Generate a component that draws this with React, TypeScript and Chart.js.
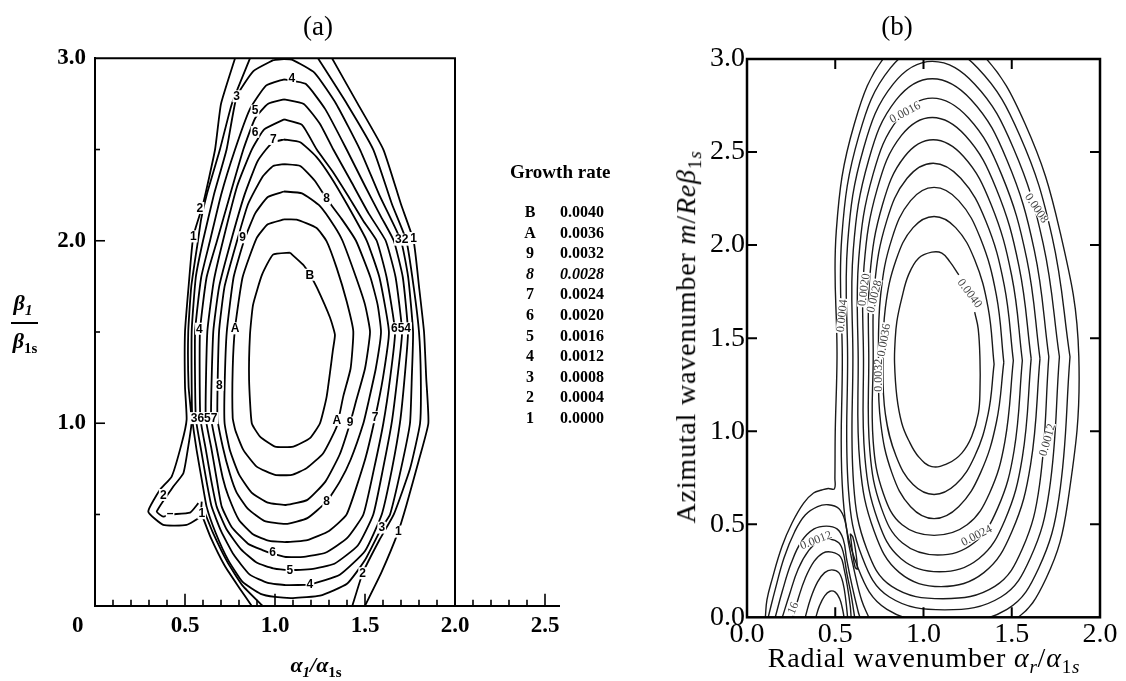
import React, { useEffect, useRef } from "react";
import { Chart, registerables } from "chart.js";
Chart.register(...registerables);

type Pt = [number, number];

// ================= Panel (a) data =================
const aXTickValues = [0, 0.5, 1.0, 1.5, 2.0, 2.5];
const aXTickLabels = ["0      ", "0.5", "1.0", "1.5", "2.0", "2.5"];
const aYTickValues = [1, 2, 3];
const aYTickLabels = ["1.0", "2.0", "3.0"];
const aBottomMarks = [0.1, 0.2, 0.3, 0.4, 0.5, 0.6, 0.7, 0.8, 0.9, 1.0, 1.1, 1.2, 1.3, 1.4, 1.5, 1.6, 1.7, 1.8, 1.9, 2.0, 2.1, 2.2, 2.3, 2.4, 2.5];
const aLeftMarks = [0.5, 1.0, 1.5, 2.0, 2.5];

const aC1Left: Pt[] = [[0.778,3.0],[0.70,2.75],[0.667,2.5],[0.60,2.2],[0.546,2.024],[0.52,1.75],[0.50,1.5],[0.50,1.2],[0.509,1.02],[0.482,0.891],[0.426,0.708],[0.361,0.635],[0.296,0.516],[0.379,0.443],[0.509,0.443],[0.583,0.488],[0.593,0.57]];
const aC1Lower: Pt[] = [[0.593,0.50],[0.64,0.38],[0.72,0.22],[0.80,0.10],[0.87,0.0]];
const aC1Right: Pt[] = [[1.50,0.0],[1.59,0.18],[1.685,0.406],[1.73,0.55],[1.80,0.8],[1.852,1.0],[1.84,1.25],[1.828,1.5],[1.80,1.75],[1.77,2.0],[1.70,2.2],[1.602,2.5],[1.46,2.75],[1.317,3.0]];
const aC2Left: Pt[] = [[0.861,3.0],[0.76,2.75],[0.694,2.5],[0.62,2.25],[0.59,2.12],[0.572,2.0],[0.535,1.75],[0.518,1.5],[0.52,1.2],[0.537,1.01],[0.518,0.872],[0.491,0.726],[0.435,0.653],[0.343,0.516],[0.379,0.488],[0.417,0.50],[0.528,0.51],[0.574,0.562]];
const aC2Lower: Pt[] = [[0.606,0.52],[0.655,0.40],[0.735,0.24],[0.82,0.11],[0.93,0.0]];
const aC2Right: Pt[] = [[1.43,0.0],[1.487,0.178],[1.58,0.36],[1.66,0.5],[1.75,0.75],[1.806,1.0],[1.81,1.25],[1.80,1.5],[1.77,1.75],[1.73,2.0],[1.65,2.2],[1.546,2.5],[1.40,2.75],[1.239,3.0]];
const aC3: Pt[] = [[0.99,2.99],[1.05,2.995],[1.10,2.99],[1.22,2.92],[1.34,2.75],[1.472,2.5],[1.58,2.25],[1.70,2.0],[1.74,1.8],[1.767,1.5],[1.76,1.25],[1.75,1.0],[1.70,0.75],[1.639,0.5],[1.593,0.428],[1.50,0.25],[1.40,0.12],[1.25,0.055],[1.10,0.042],[1.0,0.048],[0.92,0.065],[0.82,0.13],[0.74,0.25],[0.67,0.40],[0.62,0.543],[0.595,0.68],[0.565,0.85],[0.54,1.03],[0.537,1.5],[0.56,1.8],[0.60,2.0],[0.66,2.25],[0.731,2.5],[0.787,2.79],[0.88,2.93],[0.99,2.99]];
const aC4: Pt[] = [[1.05,2.885],[1.17,2.86],[1.28,2.72],[1.398,2.5],[1.50,2.3],[1.59,2.13],[1.66,2.0],[1.71,1.8],[1.739,1.5],[1.72,1.25],[1.694,1.0],[1.65,0.75],[1.593,0.5],[1.50,0.3],[1.36,0.17],[1.194,0.117],[1.06,0.113],[0.96,0.125],[0.86,0.17],[0.77,0.28],[0.70,0.41],[0.648,0.543],[0.62,0.68],[0.59,0.85],[0.56,1.03],[0.556,1.5],[0.59,1.8],[0.639,2.0],[0.70,2.25],[0.778,2.5],[0.86,2.72],[0.95,2.85],[1.05,2.885]];
const aC5: Pt[] = [[1.05,2.775],[1.16,2.75],[1.25,2.64],[1.324,2.5],[1.42,2.33],[1.52,2.15],[1.615,2.0],[1.67,1.8],[1.706,1.5],[1.68,1.25],[1.648,1.0],[1.60,0.75],[1.546,0.5],[1.46,0.33],[1.33,0.23],[1.20,0.2],[1.083,0.196],[0.99,0.205],[0.90,0.235],[0.81,0.31],[0.73,0.42],[0.676,0.543],[0.645,0.69],[0.615,0.86],[0.585,1.03],[0.583,1.5],[0.62,1.8],[0.678,2.0],[0.75,2.25],[0.824,2.5],[0.889,2.67],[0.96,2.75],[1.05,2.775]];
const aC6: Pt[] = [[1.05,2.665],[1.15,2.635],[1.232,2.5],[1.32,2.38],[1.41,2.24],[1.49,2.11],[1.565,2.0],[1.62,1.8],[1.667,1.5],[1.64,1.25],[1.602,1.0],[1.55,0.75],[1.491,0.5],[1.40,0.37],[1.28,0.29],[1.16,0.268],[1.06,0.267],[0.987,0.285],[0.93,0.305],[0.85,0.34],[0.76,0.43],[0.704,0.543],[0.675,0.70],[0.645,0.87],[0.615,1.03],[0.624,1.5],[0.66,1.78],[0.711,2.0],[0.79,2.3],[0.871,2.5],[0.94,2.61],[1.05,2.665]];
const aC7: Pt[] = [[1.05,2.555],[1.14,2.54],[1.23,2.46],[1.31,2.35],[1.40,2.2],[1.51,2.0],[1.58,1.8],[1.633,1.5],[1.60,1.25],[1.556,1.03],[1.50,0.8],[1.398,0.5],[1.30,0.41],[1.18,0.36],[1.06,0.349],[0.97,0.355],[0.88,0.39],[0.80,0.47],[0.741,0.6],[0.71,0.70],[0.675,0.87],[0.645,1.03],[0.657,1.5],[0.69,1.75],[0.756,2.0],[0.83,2.25],[0.90,2.43],[0.95,2.5],[0.99,2.54],[1.05,2.555]];
const aC8: Pt[] = [[1.05,2.42],[1.14,2.41],[1.22,2.33],[1.287,2.23],[1.37,2.12],[1.45,2.0],[1.53,1.8],[1.57,1.65],[1.589,1.5],[1.56,1.3],[1.52,1.12],[1.491,1.0],[1.42,0.8],[1.36,0.68],[1.287,0.571],[1.18,0.48],[1.06,0.448],[0.94,0.465],[0.85,0.53],[0.787,0.62],[0.75,0.72],[0.71,0.87],[0.68,1.03],[0.689,1.5],[0.72,1.75],[0.789,2.0],[0.85,2.2],[0.93,2.35],[0.99,2.41],[1.05,2.42]];
const aC9: Pt[] = [[1.05,2.27],[1.15,2.26],[1.25,2.19],[1.33,2.08],[1.375,2.0],[1.45,1.8],[1.50,1.65],[1.528,1.5],[1.50,1.3],[1.45,1.12],[1.417,1.0],[1.36,0.83],[1.28,0.68],[1.18,0.58],[1.06,0.552],[0.96,0.565],[0.87,0.62],[0.80,0.72],[0.75,0.85],[0.72,1.0],[0.72,1.2],[0.732,1.5],[0.77,1.8],[0.828,2.0],[0.89,2.15],[0.96,2.24],[1.05,2.27]];
const aCA: Pt[] = [[1.05,2.117],[1.12,2.116],[1.231,2.07],[1.287,1.997],[1.343,1.85],[1.398,1.668],[1.435,1.503],[1.42,1.3],[1.379,1.146],[1.343,0.982],[1.268,0.836],[1.176,0.754],[1.093,0.717],[1.0,0.717],[0.898,0.762],[0.824,0.854],[0.78,0.96],[0.765,1.03],[0.765,1.3],[0.778,1.52],[0.82,1.8],[0.898,2.015],[0.96,2.09],[1.05,2.117]];
const aCB: Pt[] = [[1.083,1.935],[0.989,1.924],[0.928,1.814],[0.878,1.649],[0.861,1.485],[0.856,1.238],[0.871,1.0],[0.917,0.927],[1.0,0.872],[1.102,0.872],[1.194,0.918],[1.25,1.0],[1.287,1.146],[1.322,1.403],[1.333,1.485],[1.306,1.578],[1.233,1.743],[1.194,1.814],[1.156,1.869],[1.083,1.935]];

const aContours: Pt[][] = [aC1Left, aC1Lower, aC1Right, aC2Left, aC2Lower, aC2Right, aC3, aC4, aC5, aC6, aC7, aC8, aC9, aCA, aCB];

const aLabelText = ["3","4","5","6","7","8","9","B","A","2","1","32","1","654","4","8","3657","A","9","7","8","6","5","4","3","1","2","2","–","1"];
const aLabelPos: Pt[] = [[0.787,2.792],[1.093,2.889],[0.889,2.713],[0.889,2.597],[0.991,2.558],[1.287,2.231],[0.82,2.019],[1.194,1.814],[0.778,1.52],[0.583,2.18],[0.546,2.024],[1.704,2.006],[1.77,2.015],[1.70,1.52],[0.58,1.518],[0.691,1.211],[0.606,1.028],[1.344,1.018],[1.417,1.004],[1.556,1.033],[1.287,0.571],[0.987,0.296],[1.083,0.196],[1.194,0.117],[1.593,0.428],[1.685,0.406],[1.487,0.178],[0.379,0.607],[0.417,0.507],[0.593,0.507]];

const legendCodes = ["B","A","9","8","7","6","5","4","3","2","1"];
const legendRates = ["0.0040","0.0036","0.0032","0.0028","0.0024","0.0020","0.0016","0.0012","0.0008","0.0004","0.0000"];

// ================= Panel (b) data =================
const bXTickValues = [0, 0.5, 1.0, 1.5, 2.0];
const bXTickLabels = ["0.0", "0.5", "1.0", "1.5", "2.0"];
const bYTickValues = [0, 0.5, 1.0, 1.5, 2.0, 2.5, 3.0];
const bYTickLabels = ["0.0", "0.5", "1.0", "1.5", "2.0", "2.5", "3.0"];
const bXMarks = [0.5, 1.0, 1.5];
const bYMarks = [0.5, 1.0, 1.5, 2.0, 2.5];

const bC0040: Pt[] = [[1.29,1.64],[1.31,1.55],[1.32,1.383],[1.32,1.222],[1.311,1.097],[1.273,0.971],[1.217,0.882],[1.141,0.828],[1.047,0.810],[0.972,0.863],[0.915,0.953],[0.877,1.043],[0.849,1.186],[0.836,1.366],[0.839,1.482],[0.849,1.589],[0.877,1.715],[0.915,1.840],[0.972,1.930],[1.047,1.962],[1.104,1.957],[1.15,1.91],[1.20,1.84]];
const bC0036: Pt[] = [[1.400,1.360],[1.366,1.664],[1.290,1.921],[1.182,2.094],[1.060,2.154],[0.941,2.094],[0.845,1.921],[0.784,1.664],[0.770,1.360],[0.784,1.092],[0.845,0.865],[0.941,0.713],[1.060,0.660],[1.182,0.713],[1.290,0.865],[1.366,1.092],[1.400,1.360]];
const bC0032: Pt[] = [[1.455,1.37],[1.413,1.730],[1.323,2.035],[1.199,2.239],[1.060,2.31],[0.927,2.239],[0.821,2.035],[0.757,1.730],[0.745,1.37],[0.757,1.048],[0.821,0.776],[0.927,0.594],[1.060,0.53],[1.199,0.594],[1.323,0.776],[1.413,1.048],[1.455,1.37]];
const bC0028: Pt[] = [[1.509,1.38],[1.457,1.786],[1.353,2.129],[1.211,2.359],[1.055,2.44],[0.907,2.359],[0.791,2.129],[0.723,1.786],[0.715,1.38],[0.715,0.944],[0.772,0.667],[0.879,0.497],[1.060,0.44],[1.247,0.497],[1.374,0.667],[1.461,0.944],[1.509,1.38]];
const bC0024: Pt[] = [[1.560,1.38],[1.500,1.834],[1.383,2.218],[1.227,2.476],[1.055,2.566],[0.893,2.476],[0.768,2.218],[0.696,1.834],[0.690,1.38],[0.696,0.895],[0.761,0.588],[0.881,0.399],[1.080,0.335],[1.285,0.399],[1.421,0.588],[1.513,0.895],[1.560,1.38]];
const bC0020: Pt[] = [[1.610,1.39],[1.541,1.886],[1.411,2.306],[1.238,2.588],[1.050,2.686],[0.874,2.588],[0.739,2.306],[0.663,1.886],[0.660,1.39],[0.668,0.859],[0.741,0.522],[0.873,0.315],[1.090,0.245],[1.313,0.315],[1.461,0.522],[1.560,0.859],[1.610,1.39]];
const bC0016: Pt[] = [[1.660,1.39],[1.585,1.926],[1.442,2.380],[1.254,2.684],[1.050,2.79],[0.860,2.684],[0.714,2.380],[0.633,1.926],[0.630,1.39],[0.640,0.822],[0.721,0.461],[0.864,0.240],[1.100,0.165],[1.342,0.240],[1.501,0.461],[1.607,0.822],[1.660,1.39]];
const bC0012: Pt[] = [[1.710,1.40],[1.628,1.972],[1.473,2.456],[1.271,2.780],[1.050,2.894],[0.845,2.780],[0.689,2.456],[0.602,1.972],[0.600,1.40],[0.604,0.715],[0.678,0.368],[0.820,0.166],[1.110,0.100],[1.404,0.166],[1.560,0.368],[1.658,0.715],[1.710,1.40]];
const bC0008: Pt[] = [[1.770,1.40],[1.678,2.008],[1.509,2.522],[1.289,2.866],[1.050,2.987],[0.829,2.866],[0.661,2.522],[0.570,2.008],[0.570,1.40],[0.575,0.683],[0.654,0.320],[0.807,0.109],[1.120,0.040],[1.439,0.109],[1.606,0.320],[1.713,0.683],[1.770,1.40]];
const bC0004: Pt[] = [[1.830,1.40],[1.729,2.043],[1.546,2.588],[1.307,2.952],[1.050,3.08],[0.813,2.952],[0.634,2.588],[0.537,2.043],[0.540,1.40],[0.544,0.646],[0.629,0.265],[0.793,0.043],[1.130,-0.03],[1.473,0.043],[1.653,0.265],[1.768,0.646],[1.830,1.40]];
const bC0000: Pt[] = [[1.140,-0.10],[1.504,-0.02],[1.695,0.21],[1.816,0.61],[1.880,1.40],[1.772,2.078],[1.576,2.651],[1.323,3.035],[1.050,3.17],[0.799,3.035],[0.608,2.651],[0.506,2.078],[0.510,1.40],[0.500,1.0],[0.498,0.75],[0.495,0.69],[0.46,0.692],[0.424,0.684],[0.377,0.668],[0.321,0.614],[0.255,0.507],[0.198,0.38],[0.141,0.20],[0.113,0.093],[0.104,0.0],[0.10,-0.05]];
const bLobe0004: Pt[] = [[0.12,0.0],[0.16,0.15],[0.21,0.32],[0.27,0.46],[0.33,0.55],[0.40,0.595],[0.46,0.605],[0.52,0.585],[0.555,0.52],[0.575,0.40],[0.61,0.24],[0.65,0.09],[0.69,0.0]];
const bLobe0008: Pt[] = [[0.16,0.0],[0.20,0.14],[0.25,0.29],[0.31,0.41],[0.38,0.475],[0.45,0.49],[0.51,0.475],[0.545,0.42],[0.565,0.31],[0.595,0.17],[0.63,0.03],[0.64,0.0]];
const bLobe0012: Pt[] = [[0.20,0.0],[0.24,0.12],[0.29,0.26],[0.35,0.36],[0.41,0.41],[0.47,0.42],[0.52,0.40],[0.545,0.35],[0.565,0.24],[0.59,0.12],[0.61,0.0]];
const bLobe0016: Pt[] = [[0.26,0.0],[0.29,0.10],[0.33,0.21],[0.38,0.30],[0.43,0.345],[0.48,0.35],[0.53,0.325],[0.55,0.26],[0.57,0.16],[0.585,0.06],[0.59,0.0]];
const bLobe0020: Pt[] = [[0.33,0.0],[0.36,0.10],[0.40,0.19],[0.44,0.24],[0.48,0.255],[0.52,0.24],[0.545,0.18],[0.56,0.09],[0.57,0.0]];
const bLobe0024: Pt[] = [[0.39,0.0],[0.41,0.06],[0.44,0.115],[0.47,0.14],[0.50,0.135],[0.525,0.10],[0.54,0.05],[0.55,0.0]];
const bSliver: Pt[] = [[0.585,0.45],[0.60,0.43],[0.615,0.36],[0.625,0.26],[0.612,0.27],[0.598,0.35],[0.585,0.45]];

const bContours: Pt[][] = [bC0040, bC0036, bC0032, bC0028, bC0024, bC0020, bC0016, bC0012, bC0008, bC0004, bC0000, bLobe0004, bLobe0008, bLobe0012, bLobe0016, bLobe0020, bLobe0024, bSliver];

const bLabelText = ["0.0016","0.0008","0.0040","0.0020","0.0028","0.0004","0.0036","0.0032","0.0012","0.0024","0.0012","16"];
const bLabelPos: Pt[] = [[0.895,2.714],[1.641,2.199],[1.262,1.742],[0.662,1.76],[0.72,1.725],[0.537,1.62],[0.775,1.49],[0.745,1.30],[1.70,0.953],[1.30,0.44],[0.39,0.415],[0.26,0.05]];
const bLabelAngle = [-28, 56, 53, -82, -76, -84, -80, -90, -74, -27, -21, -67];

// ================= helpers =================
const toXY = (arr: Pt[]) => arr.map(([x, y]) => ({ x, y }));

const decorA = {
  id: "decorA",
  afterDatasetsDraw(chart: any) {
    const { ctx } = chart;
    const x = chart.scales.x;
    const y = chart.scales.y;
    ctx.save();
    ctx.strokeStyle = "#000";
    ctx.lineWidth = 2;
    ctx.beginPath();
    ctx.moveTo(x.getPixelForValue(0), y.getPixelForValue(3));
    ctx.lineTo(x.getPixelForValue(2), y.getPixelForValue(3));
    ctx.lineTo(x.getPixelForValue(2), y.getPixelForValue(0));
    ctx.stroke();
    ctx.lineWidth = 1.6;
    const yb = y.getPixelForValue(0);
    aBottomMarks.forEach((v) => {
      const px = x.getPixelForValue(v);
      const major = Math.abs(v * 2 - Math.round(v * 2)) < 1e-6;
      ctx.beginPath();
      ctx.moveTo(px, yb);
      ctx.lineTo(px, yb - (major ? 12 : 6));
      ctx.stroke();
    });
    const xl = x.getPixelForValue(0);
    aLeftMarks.forEach((v) => {
      const py = y.getPixelForValue(v);
      const major = Math.abs(v - Math.round(v)) < 1e-6;
      ctx.beginPath();
      ctx.moveTo(xl, py);
      ctx.lineTo(xl + (major ? 10 : 5), py);
      ctx.stroke();
    });
    ctx.font = 'bold 12px "Liberation Sans"';
    ctx.textAlign = "center";
    ctx.textBaseline = "middle";
    aLabelText.forEach((t, i) => {
      const px = x.getPixelForValue(aLabelPos[i][0]);
      const py = y.getPixelForValue(aLabelPos[i][1]);
      const w = ctx.measureText(t).width;
      ctx.fillStyle = "#fff";
      ctx.fillRect(px - w / 2 - 1, py - 6, w + 2, 12);
      ctx.fillStyle = "#000";
      ctx.fillText(t, px, py + 0.5);
    });
    ctx.restore();
  },
};

const decorB = {
  id: "decorB",
  afterDatasetsDraw(chart: any) {
    const { ctx, chartArea } = chart;
    const x = chart.scales.x;
    const y = chart.scales.y;
    ctx.save();
    ctx.font = '12px "Liberation Serif"';
    ctx.textAlign = "center";
    ctx.textBaseline = "middle";
    bLabelText.forEach((t, i) => {
      const px = x.getPixelForValue(bLabelPos[i][0]);
      const py = y.getPixelForValue(bLabelPos[i][1]);
      ctx.save();
      ctx.translate(px, py);
      ctx.rotate((bLabelAngle[i] * Math.PI) / 180);
      const w = ctx.measureText(t).width;
      ctx.fillStyle = "#fff";
      ctx.fillRect(-w / 2 - 1, -4.5, w + 2, 9);
      ctx.fillStyle = "#444";
      ctx.fillText(t, 0, 0.5);
      ctx.restore();
    });
    ctx.strokeStyle = "#000";
    ctx.lineWidth = 2.5;
    ctx.strokeRect(chartArea.left, chartArea.top, chartArea.right - chartArea.left, chartArea.bottom - chartArea.top);
    ctx.lineWidth = 2;
    bXMarks.forEach((v) => {
      const px = x.getPixelForValue(v);
      ctx.beginPath();
      ctx.moveTo(px, chartArea.bottom);
      ctx.lineTo(px, chartArea.bottom - 10);
      ctx.moveTo(px, chartArea.top);
      ctx.lineTo(px, chartArea.top + 10);
      ctx.stroke();
    });
    bYMarks.forEach((v) => {
      const py = y.getPixelForValue(v);
      ctx.beginPath();
      ctx.moveTo(chartArea.left, py);
      ctx.lineTo(chartArea.left + 10, py);
      ctx.moveTo(chartArea.right, py);
      ctx.lineTo(chartArea.right - 10, py);
      ctx.stroke();
    });
    ctx.restore();
  },
};

function configA(): any {
  return {
    type: "scatter",
    data: {
      datasets: aContours.map((c) => ({
        data: toXY(c),
        showLine: true,
        borderColor: "#000",
        borderWidth: 1.8,
        pointRadius: 0,
        tension: 0.15,
        fill: false,
      })),
    },
    options: {
      animation: false,
      responsive: false,
      events: [],
      layout: { padding: { left: 0, top: 58.3, right: 40.6, bottom: 43.3 } },
      plugins: { legend: { display: false }, tooltip: { enabled: false } },
      scales: {
        x: {
          type: "linear",
          min: 0,
          max: 2.58,
          afterFit: (s: any) => { s.height = 32; },
          afterBuildTicks: (s: any) => { s.ticks = aXTickValues.map((v) => ({ value: v })); },
          ticks: {
            autoSkip: false,
            maxRotation: 0,
            padding: 7,
            color: "#000",
            font: { family: "Liberation Serif", size: 23, weight: "bold" },
            callback: (_v: any, i: number) => aXTickLabels[i],
          },
          grid: { display: false, drawTicks: false },
          border: { display: true, color: "#000", width: 2 },
        },
        y: {
          type: "linear",
          min: 0,
          max: 3,
          afterFit: (s: any) => { s.width = 95; },
          afterBuildTicks: (s: any) => { s.ticks = aYTickValues.map((v) => ({ value: v })); },
          ticks: {
            autoSkip: false,
            padding: 9,
            color: "#000",
            font: { family: "Liberation Serif", size: 23, weight: "bold" },
            callback: (_v: any, i: number) => aYTickLabels[i],
          },
          grid: { display: false, drawTicks: false },
          border: { display: true, color: "#000", width: 2 },
        },
      },
    },
    plugins: [decorA],
  };
}

function configB(): any {
  return {
    type: "scatter",
    data: {
      datasets: bContours.map((c) => ({
        data: toXY(c),
        showLine: true,
        borderColor: "#1a1a1a",
        borderWidth: 1.4,
        pointRadius: 0,
        tension: 0.4,
        fill: false,
      })),
    },
    options: {
      animation: false,
      responsive: false,
      events: [],
      layout: { padding: { left: 0, top: 59, right: 26, bottom: 31.7 } },
      plugins: { legend: { display: false }, tooltip: { enabled: false } },
      scales: {
        x: {
          type: "linear",
          min: 0,
          max: 2,
          afterFit: (s: any) => { s.height = 32; },
          afterBuildTicks: (s: any) => { s.ticks = bXTickValues.map((v) => ({ value: v })); },
          ticks: {
            autoSkip: false,
            maxRotation: 0,
            padding: 1,
            color: "#000",
            font: { family: "Liberation Serif", size: 28 },
            callback: (_v: any, i: number) => bXTickLabels[i],
          },
          grid: { display: false, drawTicks: false },
          border: { display: false },
        },
        y: {
          type: "linear",
          min: 0,
          max: 3,
          afterFit: (s: any) => { s.width = 57; },
          afterBuildTicks: (s: any) => { s.ticks = bYTickValues.map((v) => ({ value: v })); },
          ticks: {
            autoSkip: false,
            padding: 2,
            color: "#000",
            font: { family: "Liberation Serif", size: 28 },
            callback: (_v: any, i: number) => bYTickLabels[i],
          },
          grid: { display: false, drawTicks: false },
          border: { display: false },
        },
      },
    },
    plugins: [decorB],
  };
}

const abs = (left: number, top: number, extra: React.CSSProperties = {}): React.CSSProperties => ({
  position: "absolute",
  left,
  top,
  transform: "translate(-50%,-50%)",
  whiteSpace: "nowrap",
  lineHeight: 1,
  ...extra,
});

const sub: React.CSSProperties = { fontSize: "0.68em", verticalAlign: "-0.3em" };

export default function App() {
  const aRef = useRef<HTMLCanvasElement>(null);
  const bRef = useRef<HTMLCanvasElement>(null);
  useEffect(() => {
    const ca = new Chart(aRef.current as HTMLCanvasElement, configA());
    const cb = new Chart(bRef.current as HTMLCanvasElement, configB());
    return () => {
      ca.destroy();
      cb.destroy();
    };
  }, []);

  const serif = '"Liberation Serif", serif';
  return (
    <div style={{ position: "absolute", left: 0, top: 0, width: 1126, height: 681, background: "#fff", overflow: "hidden", fontFamily: serif, color: "#000" }}>
      <canvas ref={aRef} width={600} height={681} style={{ position: "absolute", left: 0, top: 0, width: 600, height: 681 }} />
      <canvas ref={bRef} width={436} height={681} style={{ position: "absolute", left: 690, top: 0, width: 436, height: 681 }} />

      <div style={abs(318, 26, { fontSize: 27 })}>(a)</div>
      <div style={abs(897, 26, { fontSize: 27 })}>(b)</div>

      {/* panel (a) axis titles */}
      <div style={abs(23, 305, { fontSize: 22, fontWeight: "bold", fontStyle: "italic" })}>
        β<span style={sub}>1</span>
      </div>
      <div style={{ position: "absolute", left: 11, top: 322, width: 27, height: 2, background: "#000" }} />
      <div style={abs(25, 343, { fontSize: 22, fontWeight: "bold", fontStyle: "italic" })}>
        β<span style={{ ...sub, fontStyle: "normal" }}>1s</span>
      </div>
      <div style={abs(316, 667, { fontSize: 22, fontWeight: "bold", fontStyle: "italic" })}>
        α<span style={sub}>1</span>/α<span style={{ ...sub, fontStyle: "normal" }}>1s</span>
      </div>

      {/* legend of panel (a) */}
      <div style={{ position: "absolute", left: 510, top: 162, fontSize: 19, fontWeight: "bold", whiteSpace: "nowrap", lineHeight: 1 }}>Growth rate</div>
      {legendCodes.map((c, i) => {
        const yy = 212 + i * 20.6;
        const it = c === "8";
        return (
          <React.Fragment key={c + i}>
            <div style={abs(530, yy, { fontSize: 16, fontWeight: "bold", fontStyle: it ? "italic" : "normal" })}>{c}</div>
            <div style={{ position: "absolute", left: 560, top: yy - 8, fontSize: 16, fontWeight: "bold", fontStyle: it ? "italic" : "normal", whiteSpace: "nowrap", lineHeight: 1 }}>{legendRates[i]}</div>
          </React.Fragment>
        );
      })}

      {/* panel (b) axis titles */}
      <div style={abs(924, 660, { fontSize: 28, letterSpacing: 0.8 })}>
        Radial wavenumber <i>α</i><span style={sub}><i>r</i></span>/<i>α</i><span style={sub}>1<i>s</i></span>
      </div>
      <div style={abs(688, 337, { fontSize: 28, letterSpacing: 0.8, transform: "translate(-50%,-50%) rotate(-90deg)" })}>
        Azimutal wavenumber <i>m</i>/<i>Reβ</i><span style={sub}>1<i>s</i></span>
      </div>
    </div>
  );
}
